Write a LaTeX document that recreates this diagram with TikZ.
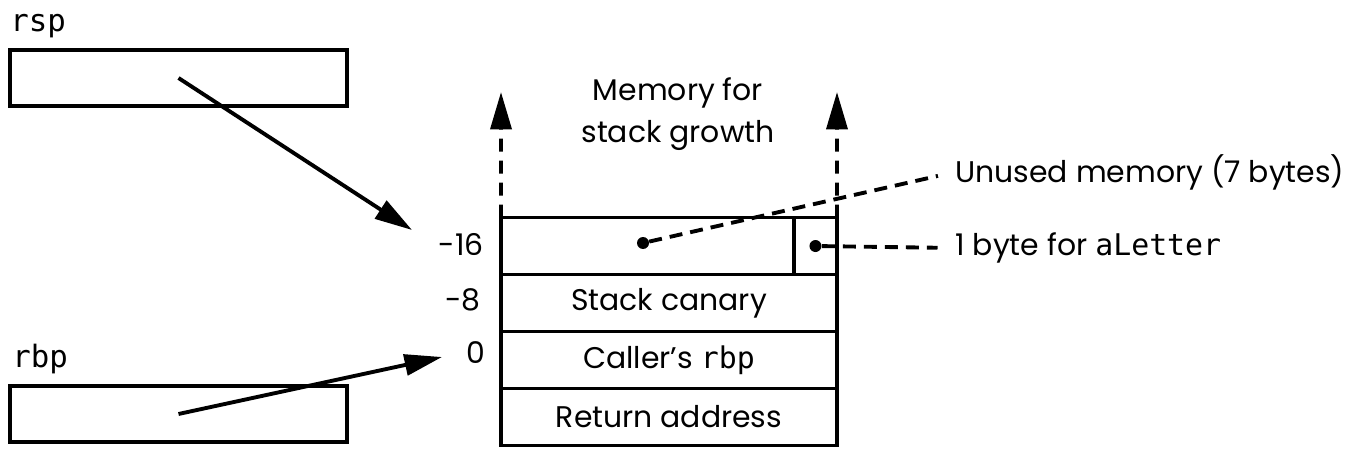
\documentclass[tikz,border=0pt]{standalone}
\usepackage{fontspec}
\setmainfont{Poppins}
\setmonofont{DejaVu Sans Mono}
\usetikzlibrary{positioning, arrows.meta}

\begin{document}
\begin{tikzpicture}[
    x=0.02cm, y=-0.02cm,
    node distance=0pt,
    every node/.style={font=\fontsize{17}{24}\selectfont},
    cell/.style={
        draw=black, line width=2.2pt, minimum height=1.14cm,
        outer sep=0pt, inner sep=0pt, anchor=center
    },
    regbox/.style={
        draw=black, line width=2.2pt, minimum width=6.74cm, minimum height=1.12cm,
        outer sep=0pt, inner sep=0pt
    },
    reglbl/.style={font=\ttfamily\fontsize{17.5}{24}\selectfont, anchor=base west, inner sep=0pt},
    offlbl/.style={anchor=east, inner sep=0pt},
    notelbl/.style={anchor=west, inner sep=0pt},
    ptr/.style={line width=2.2pt, -{Triangle[length=7.5mm, width=4.2mm]}},
    growline/.style={line width=2.2pt, dash pattern=on 0.26cm off 0.18cm,
        -{Triangle[length=7.5mm, width=4.2mm]}},
    lead/.style={line width=2.2pt, dash pattern=on 0.26cm off 0.16cm, shorten >=0.35cm},
    dot/.style={circle, fill=black, inner sep=0pt, minimum size=0.24cm}
]
\useasboundingbox (0,0) rectangle (1349,466);

% === Registers ===
\node[reglbl] (rsplbl) at (10,32) {rsp};
\node[regbox] (rspbox) at (178.5,78) {};
\node[reglbl] (rbplbl) at (12,367) {rbp};
\node[regbox] (rbpbox) at (178.5,414) {};

% === Stack frame ===
% Row 2: -8, Stack canary
\node[cell, minimum width=6.72cm] (canary) at (669,303) {Stack canary};
% Row 3: 0, Caller's rbp
\node[cell, minimum width=6.72cm, below=of canary] (callerrbp) {Caller’s \texttt{rbp}};
% Row 4: Return address
\node[cell, minimum width=6.72cm, below=of callerrbp] (retaddr) {Return address};
% Row 1: -16, unused + aLetter
\node[cell, minimum width=5.86cm, above=of canary.north west, anchor=south west] (unused) {};
\node[cell, minimum width=0.86cm, right=of unused] (aletter) {};

% Offsets
\node[offlbl] (off16) at (484,245) {-16};
\node[offlbl] (off8) at (481,300) {-8};
\node[offlbl] (off0) at (486,353) {0};

% Register pointers
\coordinate (rsptip) at (412,230);
\coordinate (rbptip) at (442,357);
\draw[ptr] (rspbox.center) -- (rsptip);
\draw[ptr] (rbpbox.center) -- (rbptip);

% Stack growth
\coordinate (growl) at (501,92);
\coordinate (growr) at (837,92);
\draw[growline] (unused.north west) -- (growl);
\draw[growline] (aletter.north east) -- (growr);
\node[align=center] (growlbl) at (678,114) {Memory for\\stack growth};

% Annotations
\node[dot] (unuseddot) at (643,243) {};
\node[dot] (aletterdot) at (aletter.center) {};
\node[notelbl] (unusedlbl) at (955,172) {Unused memory (7 bytes)};
\node[notelbl] (aletterlbl) at (955,248) {1 byte for \texttt{aLetter}};
\draw[lead] (unuseddot) -- (unusedlbl.west);
\draw[lead] (aletterdot) -- (aletterlbl.west);

\end{tikzpicture}
\end{document}
